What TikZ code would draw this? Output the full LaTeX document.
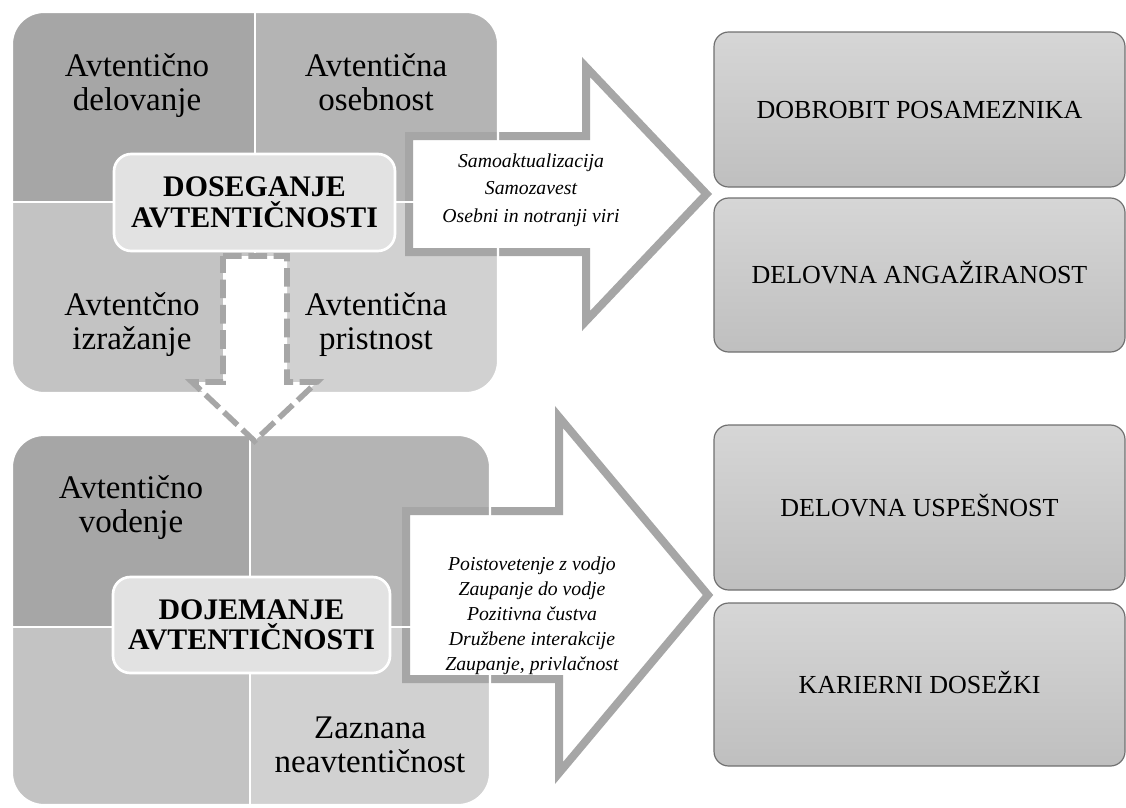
\documentclass[tikz,border=0pt]{standalone}
\usepackage{fontspec}
\setmainfont{Liberation Serif}
\definecolor{qa}{HTML}{A6A6A6}
\definecolor{qb}{HTML}{B4B4B4}
\definecolor{qc}{HTML}{C3C3C3}
\definecolor{qd}{HTML}{D1D1D1}
\definecolor{hubfill}{HTML}{E2E2E2}
\definecolor{boxline}{HTML}{707070}
\definecolor{boxtop}{HTML}{D6D6D6}
\definecolor{boxbot}{HTML}{BFBFBF}
\definecolor{arrowgray}{HTML}{A6A6A6}
\tikzset{
  quadtext/.style={anchor=base, align=center, inner sep=0pt,
    font=\fontsize{24.75}{25.5}\selectfont},
  hub/.style={fill=hubfill, draw=white, line width=2pt, rounded corners=13pt,
    align=center, inner sep=0pt, font=\bfseries\fontsize{22.4}{22.8}\selectfont},
  outbox/.style={minimum width=308.25pt, rounded corners=11pt, draw=boxline,
    line width=0.9pt, top color=boxtop, bottom color=boxbot, inner sep=0pt,
    text height=13pt, text depth=0pt, font=\fontsize{19.5}{23}\selectfont},
  blockarrow/.style={draw=arrowgray, line width=6pt, fill=white,
    line join=miter, miter limit=10},
  dasharrow/.style={draw=arrowgray, line width=4.2pt, fill=white,
    dash pattern=on 14pt off 5pt, line join=miter},
  arrowtext/.style={anchor=base, align=center, inner sep=0pt},
  divider/.style={draw=white, line width=1.6pt}
}
\begin{document}
\begin{tikzpicture}[x=0.75pt, y=-0.75pt]
\useasboundingbox (0,0) rectangle (1126,807);

% quadrant fills of the two matrices
\begin{scope}
  \clip[rounded corners=24pt] (12,12) rectangle (498,393);
  \fill[qa] (12,12) rectangle (255,202);
  \fill[qb] (255,12) rectangle (498,202);
  \fill[qc] (12,202) rectangle (255,393);
  \fill[qd] (255,202) rectangle (498,393);
\end{scope}
\begin{scope}
  \clip[rounded corners=24pt] (12,435) rectangle (490,805);
  \fill[qa] (12,435) rectangle (250,627);
  \fill[qb] (250,435) rectangle (490,627);
  \fill[qc] (12,627) rectangle (250,805);
  \fill[qd] (250,627) rectangle (490,805);
\end{scope}

% block arrows towards the outcomes
\draw[blockarrow] (409,136) -- (586,136) -- (586,67) -- (706.5,194)
  -- (586,321) -- (586,252) -- (409,252) -- cycle;
\draw[blockarrow] (406,511) -- (559,511) -- (559,417) -- (708,595)
  -- (559,773) -- (559,679) -- (406,679) -- cycle;

% white dividers and outlines of the matrices
\draw[divider] (255,12) -- (255,393) (12,202) -- (498,202);
\draw[divider, rounded corners=24pt] (12,12) rectangle (498,393);
\draw[divider] (250,435) -- (250,805) (12,627) -- (490,627);
\draw[divider, rounded corners=24pt] (12,435) rectangle (490,805);

% dashed arrow between the two matrices
\draw[dasharrow] (223,256) -- (287,256) -- (287,382) -- (317,382)
  -- (254.5,441) -- (192,382) -- (223,382) -- cycle;

% quadrant labels (anchored at the baseline of their last line)
\node[quadtext] (tl) at (137,110) {Avtentično\\delovanje};
\node[quadtext] (tr) at (376,110) {Avtentična\\osebnost};
\node[quadtext] (bl) at (132,349) {Avtentčno\\izražanje};
\node[quadtext] (br) at (376,349) {Avtentična\\pristnost};
\node[quadtext] (ltl) at (131,532) {Avtentično\\vodenje};
\node[quadtext] (lbr) at (370,772) {Zaznana\\neavtentičnost};

% central boxes
\node[hub, minimum width=210.75pt, minimum height=72.75pt] (hubA) at (254.5,202.5)
  {DOSEGANJE\\AVTENTIČNOSTI};
\node[hub, minimum width=207.75pt, minimum height=72pt] (hubB) at (251.5,625)
  {DOJEMANJE\\AVTENTIČNOSTI};

% texts inside the block arrows
\node[arrowtext, font=\itshape\fontsize{14.8}{20.6}\selectfont] (mA) at (531,222)
  {Samoaktualizacija\\Samozavest\\Osebni in notranji viri};
\node[arrowtext, font=\itshape\fontsize{14.8}{18.6}\selectfont] (mB) at (532,670)
  {Poistovetenje z vodjo\\Zaupanje do vodje\\Pozitivna čustva\\Družbene interakcije\\Zaupanje, privlačnost};

% outcome boxes
\node[outbox, minimum height=116.25pt] (o1) at (919.5,109.5) {DOBROBIT POSAMEZNIKA};
\node[outbox, minimum height=115.5pt] (o2) at (919.5,275) {DELOVNA ANGAŽIRANOST};
\node[outbox, minimum height=123.75pt] (o3) at (919.5,507.5) {DELOVNA USPEŠNOST};
\node[outbox, minimum height=122.25pt] (o4) at (919.5,684.5) {KARIERNI DOSEŽKI};
\end{tikzpicture}
\end{document}
